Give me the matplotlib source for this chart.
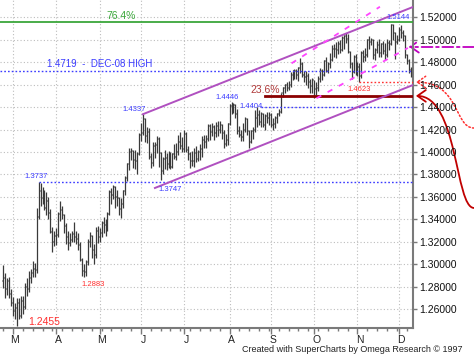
import numpy as np
import pandas as pd
import matplotlib
matplotlib.use("Agg")
import matplotlib.pyplot as plt
import matplotlib.transforms as mtransforms
from matplotlib.path import Path
from matplotlib.patches import FancyArrowPatch
from matplotlib.ticker import FixedLocator, FormatStrFormatter

plt.rcParams['font.family'] = ['Liberation Sans', 'DejaVu Sans']

# daily EUR/USD bars, Feb 23 - Dec 9 2009
dates = pd.bdate_range("2009-02-23", "2009-12-09")

opens = [
    1.2850, 1.2880, 1.2780, 1.2850, 1.2740, 1.2660, 1.2580, 1.2610, 1.2660, 1.2540,
    1.2670, 1.2620, 1.2800, 1.2780, 1.2880, 1.2920, 1.2960, 1.2950, 1.3420, 1.3650,
    1.3590, 1.3640, 1.3500, 1.3560, 1.3460, 1.3290, 1.3200, 1.3250, 1.3260, 1.3450,
    1.3480, 1.3440, 1.3340, 1.3240, 1.3190, 1.3220, 1.3270, 1.3240, 1.3230, 1.3170,
    1.3040, 1.2940, 1.2930, 1.3020, 1.3200, 1.3250, 1.3130, 1.3080, 1.3300, 1.3240,
    1.3280, 1.3370, 1.3350, 1.3330, 1.3450, 1.3640, 1.3620, 1.3690, 1.3600, 1.3590,
    1.3490, 1.3540, 1.3650, 1.3770, 1.3890, 1.4000, 1.4010, 1.3930, 1.3920, 1.3980,
    1.4150, 1.4170, 1.4290, 1.4140, 1.4180, 1.3960, 1.3900, 1.4050, 1.4060, 1.4120,
    1.3990, 1.3830, 1.3940, 1.3950, 1.3890, 1.3950, 1.3870, 1.3980, 1.3960, 1.4000,
    1.4090, 1.4050, 1.4030, 1.4160, 1.4020, 1.3980, 1.3920, 1.3920, 1.3990, 1.3940,
    1.4000, 1.4030, 1.4110, 1.4090, 1.4120, 1.4230, 1.4180, 1.4220, 1.4170, 1.4230,
    1.4200, 1.4240, 1.4170, 1.4070, 1.4110, 1.4250, 1.4410, 1.4410, 1.4420, 1.4340,
    1.4190, 1.4150, 1.4130, 1.4200, 1.4290, 1.4190, 1.4090, 1.4190, 1.4200, 1.4300,
    1.4330, 1.4270, 1.4340, 1.4240, 1.4320, 1.4300, 1.4330, 1.4240, 1.4250, 1.4300,
    1.4340, 1.4360, 1.4530, 1.4570, 1.4600, 1.4570, 1.4600, 1.4690, 1.4720, 1.4720,
    1.4690, 1.4750, 1.4780, 1.4690, 1.4670, 1.4680, 1.4620, 1.4590, 1.4640, 1.4560,
    1.4570, 1.4650, 1.4720, 1.4690, 1.4810, 1.4720, 1.4780, 1.4820, 1.4920, 1.4920,
    1.4910, 1.4960, 1.4910, 1.5020, 1.5030, 1.5010, 1.4890, 1.4780, 1.4710, 1.4850,
    1.4720, 1.4760, 1.4680, 1.4880, 1.4850, 1.4860, 1.5000, 1.4980, 1.5000, 1.4860,
    1.4910, 1.4950, 1.4880, 1.4960, 1.4900, 1.4860, 1.4970, 1.4960, 1.5130, 1.5060,
    1.4980, 1.5000, 1.5090, 1.5060, 1.5030, 1.4860, 1.4810, 1.4730,
]
highs = [
    1.2995, 1.2920, 1.2880, 1.2890, 1.2780, 1.2710, 1.2660, 1.2700, 1.2700, 1.2720,
    1.2720, 1.2830, 1.2880, 1.2940, 1.2960, 1.3030, 1.3010, 1.3500, 1.3737, 1.3720,
    1.3690, 1.3660, 1.3640, 1.3600, 1.3490, 1.3330, 1.3300, 1.3320, 1.3470, 1.3560,
    1.3520, 1.3450, 1.3370, 1.3300, 1.3280, 1.3300, 1.3380, 1.3300, 1.3280, 1.3200,
    1.3060, 1.3000, 1.3040, 1.3230, 1.3290, 1.3260, 1.3180, 1.3330, 1.3340, 1.3320,
    1.3390, 1.3420, 1.3400, 1.3470, 1.3660, 1.3680, 1.3710, 1.3700, 1.3660, 1.3600,
    1.3590, 1.3660, 1.3790, 1.3900, 1.4040, 1.4040, 1.4020, 1.4020, 1.4000, 1.4170,
    1.4260, 1.4337, 1.4300, 1.4220, 1.4210, 1.3990, 1.4090, 1.4090, 1.4140, 1.4130,
    1.4000, 1.3960, 1.4020, 1.3990, 1.4010, 1.4000, 1.3990, 1.4070, 1.4080, 1.4150,
    1.4180, 1.4130, 1.4200, 1.4180, 1.4050, 1.4000, 1.4010, 1.4040, 1.4050, 1.4020,
    1.4070, 1.4140, 1.4150, 1.4150, 1.4250, 1.4250, 1.4260, 1.4240, 1.4270, 1.4280,
    1.4280, 1.4250, 1.4200, 1.4160, 1.4260, 1.4430, 1.4446, 1.4440, 1.4430, 1.4380,
    1.4230, 1.4200, 1.4260, 1.4310, 1.4300, 1.4200, 1.4200, 1.4220, 1.4370, 1.4404,
    1.4370, 1.4360, 1.4350, 1.4340, 1.4360, 1.4360, 1.4350, 1.4300, 1.4320, 1.4350,
    1.4380, 1.4530, 1.4580, 1.4610, 1.4620, 1.4630, 1.4710, 1.4730, 1.4740, 1.4740,
    1.4760, 1.4840, 1.4800, 1.4720, 1.4720, 1.4700, 1.4650, 1.4660, 1.4640, 1.4620,
    1.4680, 1.4750, 1.4740, 1.4820, 1.4850, 1.4800, 1.4880, 1.4950, 1.4960, 1.4980,
    1.4990, 1.5000, 1.5030, 1.5040, 1.5061, 1.5050, 1.4900, 1.4800, 1.4860, 1.4870,
    1.4800, 1.4790, 1.4900, 1.4910, 1.4930, 1.5010, 1.5030, 1.5020, 1.5010, 1.4930,
    1.4990, 1.5010, 1.4970, 1.4990, 1.4970, 1.5010, 1.5000, 1.5144, 1.5140, 1.5070,
    1.5040, 1.5110, 1.5130, 1.5090, 1.5040, 1.4870, 1.4830, 1.4760,
]
lows = [
    1.2790, 1.2700, 1.2730, 1.2700, 1.2630, 1.2540, 1.2510, 1.2455, 1.2510, 1.2520,
    1.2560, 1.2600, 1.2720, 1.2750, 1.2830, 1.2890, 1.2890, 1.2920, 1.3400, 1.3520,
    1.3540, 1.3480, 1.3440, 1.3400, 1.3280, 1.3110, 1.3160, 1.3170, 1.3240, 1.3390,
    1.3400, 1.3280, 1.3180, 1.3130, 1.3160, 1.3200, 1.3200, 1.3180, 1.3130, 1.3030,
    1.2900, 1.2883, 1.2900, 1.2990, 1.3150, 1.3060, 1.3000, 1.3060, 1.3190, 1.3200,
    1.3240, 1.3280, 1.3250, 1.3300, 1.3440, 1.3540, 1.3580, 1.3500, 1.3520, 1.3440,
    1.3410, 1.3500, 1.3620, 1.3740, 1.3840, 1.3930, 1.3860, 1.3850, 1.3800, 1.3970,
    1.4100, 1.4150, 1.4090, 1.4080, 1.3940, 1.3860, 1.3880, 1.3950, 1.3990, 1.3870,
    1.3747, 1.3800, 1.3850, 1.3840, 1.3860, 1.3850, 1.3860, 1.3940, 1.3930, 1.3970,
    1.4030, 1.4000, 1.4000, 1.4000, 1.3930, 1.3860, 1.3880, 1.3870, 1.3910, 1.3920,
    1.3930, 1.3960, 1.4040, 1.4040, 1.4100, 1.4110, 1.4140, 1.4110, 1.4130, 1.4140,
    1.4170, 1.4120, 1.4040, 1.4050, 1.4060, 1.4240, 1.4340, 1.4350, 1.4300, 1.4160,
    1.4130, 1.4100, 1.4100, 1.4180, 1.4150, 1.4040, 1.4080, 1.4120, 1.4180, 1.4220,
    1.4240, 1.4220, 1.4220, 1.4200, 1.4260, 1.4240, 1.4220, 1.4200, 1.4210, 1.4260,
    1.4320, 1.4350, 1.4490, 1.4530, 1.4540, 1.4550, 1.4580, 1.4640, 1.4650, 1.4650,
    1.4630, 1.4700, 1.4670, 1.4620, 1.4600, 1.4570, 1.4530, 1.4530, 1.4480, 1.4510,
    1.4540, 1.4620, 1.4640, 1.4680, 1.4710, 1.4700, 1.4750, 1.4810, 1.4850, 1.4840,
    1.4870, 1.4880, 1.4900, 1.4920, 1.4970, 1.4880, 1.4750, 1.4650, 1.4700, 1.4690,
    1.4680, 1.4623, 1.4660, 1.4800, 1.4810, 1.4850, 1.4920, 1.4950, 1.4830, 1.4820,
    1.4880, 1.4850, 1.4850, 1.4870, 1.4820, 1.4850, 1.4910, 1.4950, 1.5000, 1.4830,
    1.4960, 1.4990, 1.5020, 1.4990, 1.4840, 1.4780, 1.4700, 1.4665,
]
closes = [
    1.2880, 1.2780, 1.2850, 1.2740, 1.2660, 1.2580, 1.2610, 1.2660, 1.2540, 1.2670,
    1.2620, 1.2800, 1.2780, 1.2880, 1.2920, 1.2960, 1.2950, 1.3420, 1.3650, 1.3590,
    1.3640, 1.3500, 1.3560, 1.3460, 1.3290, 1.3200, 1.3250, 1.3260, 1.3450, 1.3480,
    1.3440, 1.3340, 1.3240, 1.3190, 1.3220, 1.3270, 1.3240, 1.3230, 1.3170, 1.3040,
    1.2940, 1.2930, 1.3020, 1.3200, 1.3250, 1.3130, 1.3080, 1.3300, 1.3240, 1.3280,
    1.3370, 1.3350, 1.3330, 1.3450, 1.3640, 1.3620, 1.3690, 1.3600, 1.3590, 1.3490,
    1.3540, 1.3650, 1.3770, 1.3890, 1.4000, 1.4010, 1.3930, 1.3920, 1.3980, 1.4150,
    1.4170, 1.4290, 1.4140, 1.4180, 1.3960, 1.3900, 1.4050, 1.4060, 1.4120, 1.3990,
    1.3830, 1.3940, 1.3950, 1.3890, 1.3950, 1.3870, 1.3980, 1.3960, 1.4000, 1.4090,
    1.4050, 1.4030, 1.4160, 1.4020, 1.3980, 1.3920, 1.3920, 1.3990, 1.3940, 1.4000,
    1.4030, 1.4110, 1.4090, 1.4120, 1.4230, 1.4180, 1.4220, 1.4170, 1.4230, 1.4200,
    1.4240, 1.4170, 1.4070, 1.4110, 1.4250, 1.4410, 1.4410, 1.4420, 1.4340, 1.4190,
    1.4150, 1.4130, 1.4200, 1.4290, 1.4190, 1.4090, 1.4190, 1.4200, 1.4300, 1.4330,
    1.4270, 1.4340, 1.4240, 1.4320, 1.4300, 1.4330, 1.4240, 1.4250, 1.4300, 1.4340,
    1.4360, 1.4530, 1.4570, 1.4600, 1.4570, 1.4600, 1.4690, 1.4720, 1.4720, 1.4690,
    1.4750, 1.4780, 1.4690, 1.4670, 1.4680, 1.4620, 1.4590, 1.4640, 1.4560, 1.4570,
    1.4650, 1.4720, 1.4690, 1.4810, 1.4720, 1.4780, 1.4820, 1.4920, 1.4920, 1.4910,
    1.4960, 1.4910, 1.5020, 1.5030, 1.5010, 1.4890, 1.4780, 1.4710, 1.4850, 1.4720,
    1.4760, 1.4680, 1.4880, 1.4850, 1.4860, 1.5000, 1.4980, 1.5000, 1.4860, 1.4910,
    1.4950, 1.4880, 1.4960, 1.4900, 1.4860, 1.4970, 1.4960, 1.5130, 1.5060, 1.4980,
    1.5000, 1.5090, 1.5070, 1.5030, 1.4860, 1.4810, 1.4730, 1.4700,
]

month_letters = ["M", "A", "M", "J", "J", "A", "S", "O", "N", "D"]
y_ticks = [1.26, 1.28, 1.30, 1.32, 1.34, 1.36, 1.38, 1.40, 1.42, 1.44, 1.46, 1.48, 1.50, 1.52]

# analysis levels
fib_764 = 1.5155
fib_236 = 1.4500
dec08_high = 1.4719
level_1_3737 = 1.3737
level_1_4404 = 1.4404
level_1_4623 = 1.4623
target_level = 1.4938

# channel + inner trend lines (bar index, price)
chan_upper = [(71, 1.4337), (208.2, 1.5292)]
chan_lower = [(77.1, 1.3680), (208.2, 1.4597)]
inner_a = [(146.5, 1.4790), (191.4, 1.5294)]
inner_b = [(159.2, 1.4479), (205.6, 1.4927)]

# price labels: (text, bar index, price, colour, size)
price_labels = [
    ("1.3737", 16.7, 1.3782, "#3c3cff", 5.5),
    ("1.2455", 21.0, 1.2487, "#ff3030", 7.5),
    ("1.2883", 45.6, 1.2821, "#ff3030", 5.5),
    ("1.4337", 66.5, 1.4375, "#3c3cff", 5.5),
    ("1.3747", 84.7, 1.3662, "#3c3cff", 5.5),
    ("1.4446", 114.0, 1.4486, "#3c3cff", 5.5),
    ("1.4404", 125.9, 1.4406, "#3c3cff", 5.5),
    ("1.4623", 180.7, 1.4553, "#ff3030", 5.5),
    ("1.5144", 200.5, 1.5198, "#3c3cff", 5.5),
]

x = np.arange(len(dates))

fig = plt.figure(figsize=(4.74, 3.57), dpi=100)
ax = fig.add_axes([0.0, 29 / 357, 413 / 474, 328 / 357])
ax.set_xlim(-1.6, 208.2)
ax.set_ylim(1.2433, 1.5354)

# grid
month_start = [i for i in range(1, len(dates)) if dates[i].month != dates[i - 1].month]
mondays = [i for i in range(len(dates)) if dates[i].weekday() == 0]
for m in month_start:
    ax.axvline(m, color="#bdbdbd", lw=0.8, ls=(0, (1, 2)), zorder=0)
for yt in y_ticks:
    ax.axhline(yt, color="#bdbdbd", lw=0.8, ls=(0, (1, 2)), zorder=0)

# OHLC bars
ax.hlines(opens, x - 0.6, x, color="#9a9a9a", lw=1.2, zorder=2)
ax.hlines(closes, x, x + 0.6, color="#9a9a9a", lw=1.2, zorder=2)
ax.vlines(x, lows, highs, color="#3a3a3a", lw=0.9, zorder=3)

x_end = 208.2
ax.axhline(fib_764, color="#3aa63a", lw=1.3, zorder=4)
ax.text(59.9, 1.5212, "76.4%", color="#3aa63a", fontsize=7.5, ha="center", va="center")

ax.axhline(dec08_high, color="#3c3cff", lw=1.0, ls=(0, (1.2, 1.5)), zorder=4)
ax.text(22.3, 1.4784, "1.4719  -  DEC-08 HIGH", color="#3c3cff", fontsize=7,
        ha="left", va="center")

ax.plot([18, x_end], [level_1_3737] * 2, color="#3c3cff", lw=1.0, ls=(0, (1.2, 1.5)), zorder=4)
ax.plot([131, x_end], [level_1_4404] * 2, color="#3c3cff", lw=1.0, ls=(0, (1.2, 1.5)), zorder=4)
ax.plot([181, x_end], [level_1_4623] * 2, color="#ff3030", lw=1.0, ls=(0, (1.2, 1.5)), zorder=4)
ax.plot([133, x_end], [fib_236] * 2, color="#8b0000", lw=2.0, zorder=4)
ax.text(133.0, 1.4553, "23.6%", color="#b03a3a", fontsize=7.5, ha="center", va="center")

for line in (chan_upper, chan_lower):
    ax.plot([p[0] for p in line], [p[1] for p in line], color="#b050c0", lw=1.4, zorder=5)
for line in (inner_a, inner_b):
    ax.plot([p[0] for p in line], [p[1] for p in line], color="#ff44ff", lw=1.3,
            ls=(0, (3, 4)), zorder=5)

for txt, px, py, col, fs in price_labels:
    ax.text(px, py, txt, color=col, fontsize=fs, ha="center", va="center", zorder=6)

# arrows in the right margin (x in axes fraction, y in price)
bt = mtransforms.blended_transform_factory(ax.transAxes, ax.transData)
red_path = Path([(1.1477, 1.3502), (1.1017, 1.3502), (1.1090, fib_236), (1.0070, fib_236)],
                [Path.MOVETO, Path.CURVE4, Path.CURVE4, Path.CURVE4])
ax.add_patch(FancyArrowPatch(path=red_path, transform=bt, clip_on=False,
                             arrowstyle="->,head_length=0.5,head_width=0.35",
                             mutation_scale=12, color="#c00000", lw=1.3))
dot_path = Path([(1.1477, 1.4214), (1.0993, 1.4214), (1.1138, level_1_4623), (1.0073, level_1_4623)],
                [Path.MOVETO, Path.CURVE4, Path.CURVE4, Path.CURVE4])
ax.add_patch(FancyArrowPatch(path=dot_path, transform=bt, clip_on=False,
                             arrowstyle="->,head_length=0.5,head_width=0.35",
                             mutation_scale=12, color="#ff3030", lw=1.1, ls=(0, (1, 1.5))))
mag_path = Path([(1.1477, target_level), (0.990, target_level)], [Path.MOVETO, Path.LINETO])
ax.add_patch(FancyArrowPatch(path=mag_path, transform=bt, clip_on=False,
                             arrowstyle="->,head_length=0.5,head_width=0.35",
                             mutation_scale=12, color="#c000c0", lw=1.3, ls=(0, (6, 2, 1.5, 2))))

# axes styling
for s in ("left", "top"):
    ax.spines[s].set_visible(False)
for s in ("right", "bottom"):
    ax.spines[s].set_color("#7a7a7a")
    ax.spines[s].set_linewidth(1.5)

ax.yaxis.tick_right()
ax.set_yticks(y_ticks)
ax.yaxis.set_major_formatter(FormatStrFormatter("%.5f"))
ax.tick_params(axis="y", direction="out", length=3, width=1, color="#7a7a7a",
               labelsize=7.5, pad=1.5, labelcolor="#111111")

ax.xaxis.set_major_locator(FixedLocator(month_start))
ax.xaxis.set_minor_locator(FixedLocator(mondays))
ax.set_xticklabels(month_letters)
ax.tick_params(axis="x", which="major", direction="out", length=4, width=1, color="#7a7a7a",
               labelsize=7.5, pad=1, labelcolor="#222222")
ax.tick_params(axis="x", which="minor", direction="out", length=2, width=1, color="#7a7a7a")
offset = mtransforms.ScaledTranslation(2 / 100, 0, fig.dpi_scale_trans)
for lab in ax.get_xticklabels():
    lab.set_transform(lab.get_transform() + offset)

fig.text(242 / 474, 1 - 350 / 357, "Created with SuperCharts by Omega Research \u00a9 1997",
         fontsize=6.5, ha="left", va="center", color="#222222")

fig.savefig("out.png", dpi=100)
